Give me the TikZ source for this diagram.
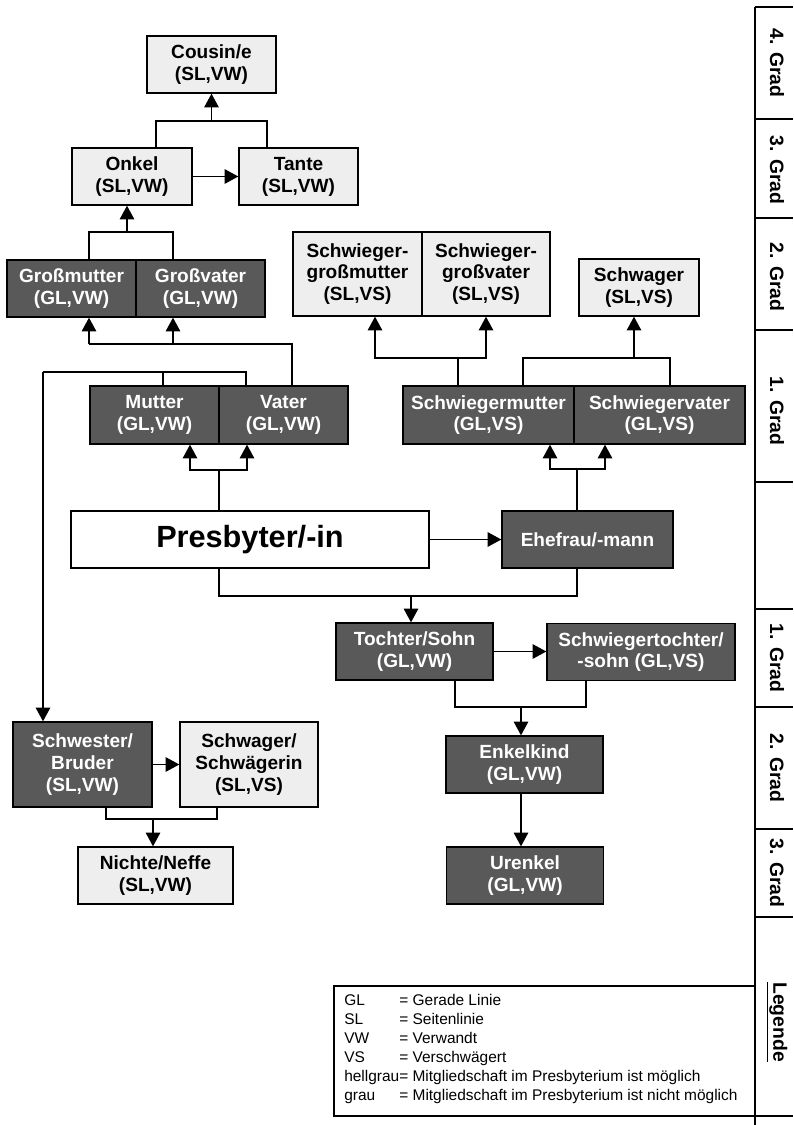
\documentclass[tikz,border=0pt]{standalone}
\usepackage{fontspec}
\setmainfont{Liberation Sans}
\usetikzlibrary{arrows.meta,calc}
\definecolor{dg}{HTML}{595959}
\definecolor{lg}{HTML}{EEEEEE}
\tikzset{
 sz/.style 2 args={minimum width=#1*0.75pt, minimum height=#2*0.75pt},
 base/.style={draw=black, line width=1pt, inner sep=0pt, align=center, font=\fontsize{14.3}{16.4}\selectfont\bfseries},
 lbox/.style={base, fill=lg, text=black},
 dbox/.style={base, fill=dg, text=white},
 conn/.style={line width=0.95pt},
 arr/.style={conn, -{Triangle[length=10.2pt,width=10.8pt]}},
 rule/.style={line width=1pt},
 grad/.style={rotate=-90, inner sep=0pt, font=\fontsize{14.5}{17}\selectfont\bfseries}
}
\begin{document}
\begin{tikzpicture}[x=0.75pt,y=-0.75pt]
\useasboundingbox (0,0) rectangle (793,1125);
% boxes
\node[lbox, sz={129}{57}] (co) at (211.5,64.5) {Cousin/e\\(SL,VW)};
\node[lbox, sz={120}{57}] (on) at (132,176.5) {Onkel\\(SL,VW)};
\node[lbox, sz={119}{57}] (ta) at (298.5,176.5) {Tante\\(SL,VW)};
\node[dbox, sz={129}{57}] (gm) at (71.5,288.5) {Großmutter\\(GL,VW)};
\node[dbox, sz={129}{57}] (gv) at (200.5,288.5) {Großvater\\(GL,VW)};
\node[lbox, sz={129}{84}] (sgm) at (357.5,274) {Schwieger-\\großmutter\\(SL,VS)};
\node[lbox, sz={128}{84}] (sgv) at (486,274) {Schwieger-\\großvater\\(SL,VS)};
\node[lbox, sz={120}{57}] (swg) at (639,287.5) {Schwager\\(SL,VS)};
\node[dbox, sz={129}{58}] (mu) at (154.5,415) {Mutter\\(GL,VW)};
\node[dbox, sz={129}{58}] (va) at (283.5,415) {Vater\\(GL,VW)};
\node[dbox, sz={171}{58}] (sm) at (488.5,415) {Schwiegermutter\\(GL,VS)};
\node[dbox, sz={171}{58}] (sv) at (659.5,415) {Schwiegervater\\(GL,VS)};
\node[base, fill=white, sz={358}{57}, font=\fontsize{23}{27}\selectfont\bfseries] (pb) at (250,539.5) {Presbyter/-in};
\node[dbox, sz={171}{57}] (ef) at (587.5,539.5) {Ehefrau/-mann};
\node[dbox, sz={157}{57}] (to) at (414.5,651.5) {Tochter/Sohn\\(GL,VW)};
\node[dbox, sz={188}{57}] (st) at (641,652) {Schwiegertochter/\\-sohn (GL,VS)};
\node[dbox, sz={157}{57}] (en) at (524.5,764.5) {Enkelkind\\(GL,VW)};
\node[dbox, sz={157}{57}] (ue) at (525,875.5) {Urenkel\\(GL,VW)};
\node[dbox, sz={139}{85}] (sw) at (82.5,764.5) {Schwester/\\Bruder\\(SL,VW)};
\node[lbox, sz={138}{85}] (sg) at (249,764.5) {Schwager/\\Schwägerin\\(SL,VS)};
\node[lbox, sz={155}{57}] (ni) at (155.5,875.5) {Nichte/Neffe\\(SL,VW)};
% connectors: Cousin
\coordinate (jC) at (211.5,121);
\draw[conn] ($(on.north)+(24,0)$) |- (jC) -| ($(ta.north)+(-31.5,0)$);
\draw[arr] (jC) -- (jC |- co.south);
\draw[arr] (on.east) -- (ta.west);
% Onkel
\coordinate (jO) at (127,232);
\draw[conn] ($(gm.north)+(17.5,0)$) |- (jO) -| ($(gv.north)+(-27.5,0)$);
\draw[arr] (jO) -- (jO |- on.south);
% Grosseltern
\coordinate (jG1) at (89,344);
\coordinate (jG2) at (173,344);
\draw[conn] ($(va.north)+(8.5,0)$) |- (jG1);
\draw[arr] (jG1) -- (jG1 |- gm.south);
\draw[arr] (jG2) -- (jG2 |- gv.south);
% Geschwister
\coordinate (jS) at (43,372);
\coordinate (muT) at ($(mu.north)+(8.5,0)$);
\draw[conn] ($(va.north)+(-37.5,0)$) |- (jS);
\draw[conn] (muT) -- (muT |- jS);
\draw[arr] (jS) -- (jS |- sw.north);
% Eltern
\coordinate (jP) at (219,470);
\coordinate (jP1) at (190,470);
\coordinate (jP2) at (247,470);
\draw[arr] (jP |- pb.north) -- (jP) -| (jP1 |- mu.south);
\draw[arr] (jP) -| (jP2 |- va.south);
\draw[arr] (pb.east) -- (pb.east -| ef.west);
% Schwiegereltern
\coordinate (jE) at (577,469);
\coordinate (jE1) at (550,469);
\coordinate (jE2) at (605,469);
\draw[arr] (jE |- ef.north) -- (jE) -| (jE1 |- sm.south);
\draw[arr] (jE) -| (jE2 |- sv.south);
% Schwiegergrosseltern
\coordinate (jSG) at (458,358);
\coordinate (jSG1) at (375,358);
\coordinate (jSG2) at (486,358);
\draw[arr] (jSG |- sm.north) -- (jSG) -| (jSG1 |- sgm.south);
\draw[arr] (jSG) -| (jSG2 |- sgv.south);
% Schwager
\coordinate (jSw) at (634,358);
\coordinate (jSwL) at (523,358);
\coordinate (jSwR) at (670,358);
\draw[conn] (jSwL |- sm.north) -- (jSwL) -- (jSwR) -- (jSwR |- sv.north);
\draw[arr] (jSw) -- (jSw |- swg.south);
% Kinder
\coordinate (jK) at (411,596);
\coordinate (jKL) at (219,596);
\coordinate (jKR) at (577,596);
\draw[conn] (jKL |- pb.south) -- (jKL) -- (jKR) -- (jKR |- ef.south);
\draw[arr] (jK) -- (jK |- to.north);
\draw[arr] (to.east) -- (to.east -| st.west);
% Enkel
\coordinate (jEn) at (521,707);
\coordinate (jEnL) at (455,707);
\coordinate (jEnR) at (586,707);
\draw[conn] (jEnL |- to.south) -- (jEnL) -- (jEnR) -- (jEnR |- st.south);
\draw[arr] (jEn) -- (jEn |- en.north);
\draw[arr] (jEn |- en.south) -- (jEn |- ue.north);
% Nichte
\draw[arr] (sw.east) -- (sw.east -| sg.west);
\coordinate (jN) at (153,819);
\coordinate (jNL) at (106,819);
\coordinate (jNR) at (217,819);
\draw[conn] (jNL |- sw.south) -- (jNL) -- (jNR) -- (jNR |- sg.south);
\draw[arr] (jN) -- (jN |- ni.north);
% right column
\draw[rule] (755,7) -- (755,1125);
\foreach \y in {7,119,218,330,482,609,707,829,917,1116} \draw[rule] (755,\y) -- (793,\y);
\node[grad] (g4a) at (777,63) {4. Grad};
\node[grad] (g3a) at (777,170) {3. Grad};
\node[grad] (g2a) at (777,277) {2. Grad};
\node[grad] (g1a) at (777,411) {1. Grad};
\node[grad] (g1b) at (777,658) {1. Grad};
\node[grad] (g2b) at (777,768) {2. Grad};
\node[grad] (g3b) at (777,873) {3. Grad};
\node[grad] (leg) at (777,1022) {\underline{Legende}};
% legend
\draw[rule] (334,986) rectangle (755,1116);
\node[anchor=north west, inner sep=0pt, font=\fontsize{11.6}{14.25}\selectfont] (legtext) at (344,992)
 {\begin{tabular}{@{}l@{}l@{}}
 GL & = Gerade Linie\\
 SL & = Seitenlinie\\
 VW & = Verwandt\\
 VS & = Verschwägert\\
 hellgrau & = Mitgliedschaft im Presbyterium ist möglich\\
 grau & = Mitgliedschaft im Presbyterium ist nicht möglich
 \end{tabular}};
\end{tikzpicture}
\end{document}
